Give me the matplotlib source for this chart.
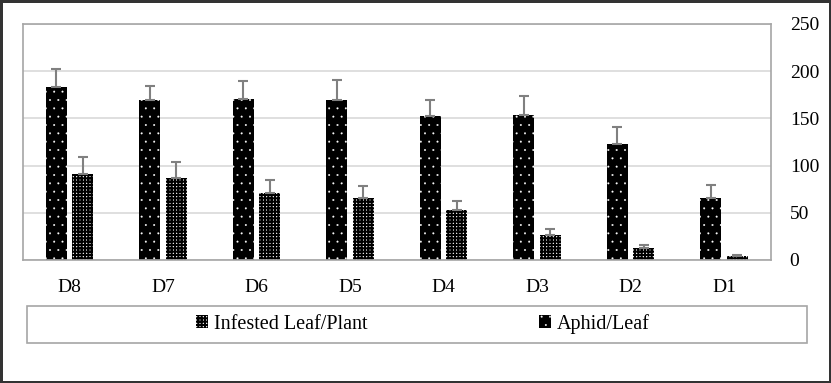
import numpy as np
import matplotlib
matplotlib.use('Agg')
import matplotlib.pyplot as plt
from matplotlib.patches import Rectangle, Patch

# values
days = ['D8', 'D7', 'D6', 'D5', 'D4', 'D3', 'D2', 'D1']
aphid_leaf = [183, 169, 171, 169, 153, 154, 123, 66]
aphid_err = [19, 15, 19, 22, 17, 20, 18, 13]
infested = [91, 87, 71, 66, 53, 27, 13, 4]
infested_err = [18, 17, 14, 12, 9, 6, 3, 1.5]

plt.rcParams['font.family'] = 'Liberation Serif'

fig = plt.figure(figsize=(8.31, 3.83), dpi=100)
fig.patch.set_edgecolor('#333333')
fig.patch.set_linewidth(2.5)

W, H = 831, 383
ax = fig.add_axes([23 / W, 1 - 260 / H, (771 - 23) / W, (260 - 24) / H])

x = np.arange(len(days))
bw = 0.225
err_kw = dict(ecolor='#808080', elinewidth=1.5, capsize=3.6, capthick=1.5)

# thin hatch for the white dots
plt.rcParams['hatch.linewidth'] = 0.2
ax.bar(x - 0.142, aphid_leaf, bw, color='black', edgecolor='white', linewidth=0,
       hatch='..', yerr=[np.zeros(len(days)), aphid_err], error_kw=err_kw, zorder=2)

plt.rcParams['hatch.linewidth'] = 1.5
ax.bar(x + 0.141, infested, bw, color='white', edgecolor='black', linewidth=0,
       hatch='+++++', yerr=[np.zeros(len(days)), infested_err], error_kw=err_kw, zorder=2)

ax.set_xlim(-0.5, len(days) - 0.5)
ax.set_ylim(0, 250)
ax.set_yticks([0, 50, 100, 150, 200, 250])
ax.yaxis.tick_right()
ax.set_xticks(x)
ax.set_xticklabels(days)
ax.tick_params(axis='both', length=0, labelsize=14)
ax.tick_params(axis='y', pad=13.5)
ax.tick_params(axis='x', pad=14)
ax.grid(axis='y', color='#d9d9d9', linewidth=1.2, zorder=0)
for s in ax.spines.values():
    s.set_color('#a6a6a6')
    s.set_linewidth(1.2)

# legend box spanning the figure
fig.patches.append(Rectangle((27 / W, 1 - 343 / H), (807 - 27) / W, (343 - 306) / H,
                             transform=fig.transFigure, facecolor='none',
                             edgecolor='#a6a6a6', linewidth=1.2))
handles = [Patch(facecolor='white', edgecolor='black', hatch='+++++', linewidth=0,
                 label='Infested Leaf/Plant'),
           Patch(facecolor='black', edgecolor='white', hatch='..', linewidth=0,
                 label='Aphid/Leaf')]
leg = fig.legend(handles=handles, loc='center', bbox_to_anchor=(423 / W, 1 - 324 / H),
                 ncol=2, frameon=False, fontsize=14.5, columnspacing=8.5,
                 handlelength=0.6, handleheight=0.6, handletextpad=0.3)
lp = leg.get_patches()
if hasattr(lp[1], 'set_hatch_linewidth'):
    lp[1].set_hatch_linewidth(0.2)
else:
    lp[1]._hatch_linewidth = 0.2

fig.savefig('out.png', dpi=100)
